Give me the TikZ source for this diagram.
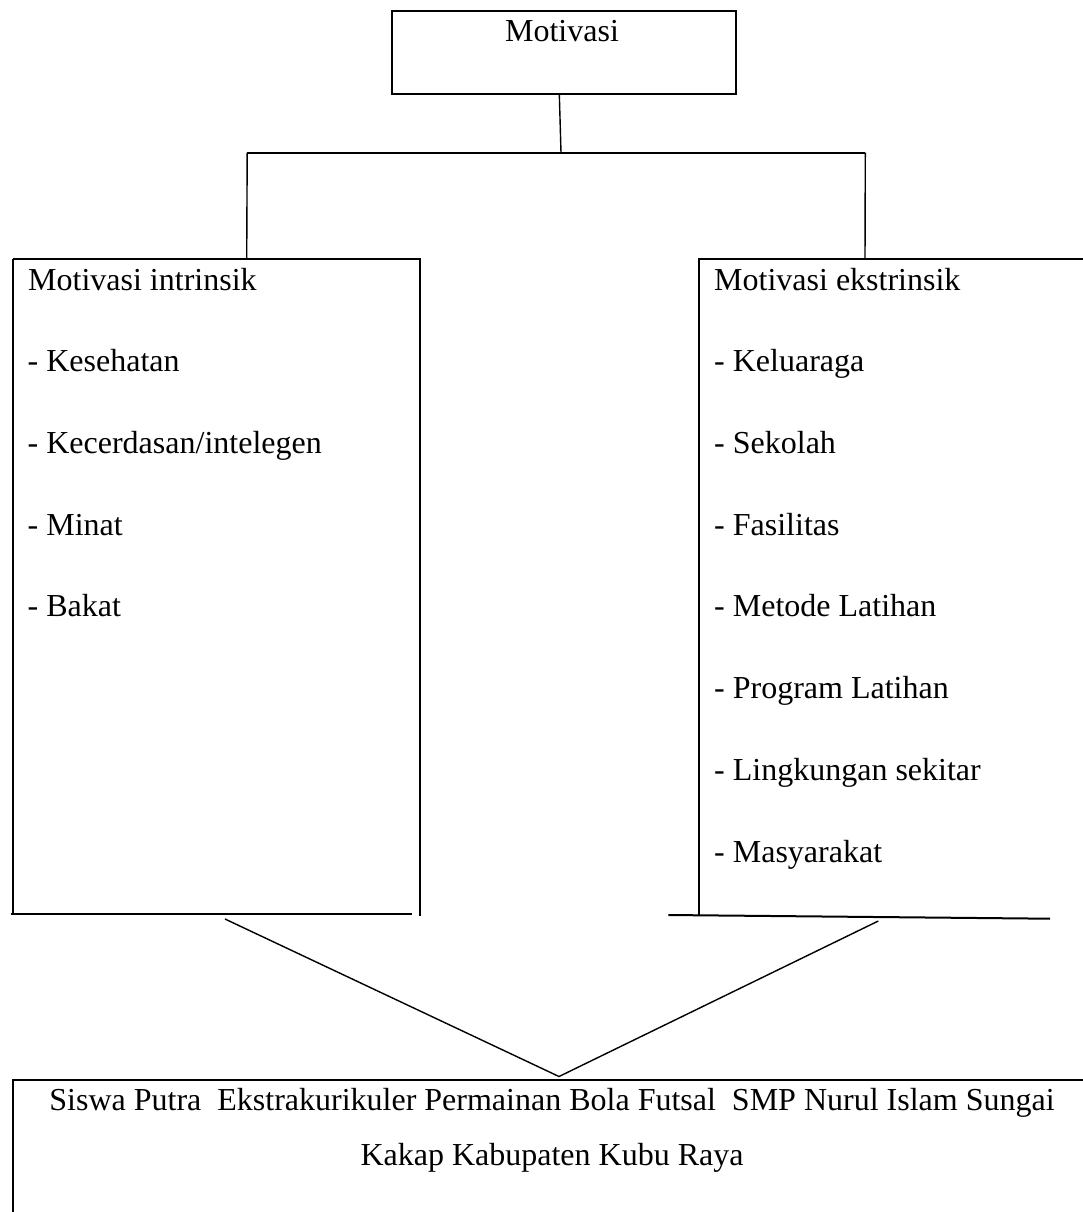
\documentclass[tikz,border=0pt]{standalone}
\usepackage{fontspec}
\setmainfont{Liberation Serif}
\begin{document}
\begin{tikzpicture}[x=1pt,y=-1pt,
  boxline/.style={line width=2pt},
  conn/.style={line width=1.4pt},
  lbl/.style={inner sep=0pt, anchor=base west, font=\fontsize{32}{38}\selectfont},
  clbl/.style={inner sep=0pt, anchor=base, font=\fontsize{32}{38}\selectfont},
  boxnode/.style={draw, line width=2pt, rectangle, inner sep=0pt}]
\useasboundingbox (0,0) rectangle (1083,1212);
\clip (0,0) rectangle (1083,1212);
\fill[white] (0,0) rectangle (1083,1212);

% top box
\node[boxnode, minimum width=344pt, minimum height=82.7pt] (top) at (563.7,52.35) {};
\node[clbl] (toptxt) at (562,41.7) {Motivasi};

% connector tree
\coordinate (t1) at (559.3,93.7);
\coordinate (j)  at (561,152.7);
\coordinate (jl) at (247.2,152.7);
\coordinate (jr) at (865.3,152.7);
\coordinate (lt) at (246.7,259.3);
\coordinate (rt) at (865,259.3);
\draw[conn] (t1) -- (j);
\draw[line width=1.7pt] (jl) -- (jr);
\draw[conn] (jl) -- (lt);
\draw[conn] (jr) -- (rt);

% left box
\coordinate (L1) at (13,259.3);
\coordinate (L2) at (420,259.3);
\coordinate (L3) at (420,915.5);
\coordinate (L4) at (13,914.3);
\coordinate (L5) at (10.7,914.3);
\coordinate (L6) at (411.7,914.3);
\draw[boxline] (L1) -- (L2) -- (L3);
\draw[boxline] (L1) -- (L4);
\draw[boxline] (L5) -- (L6);

\node[lbl] (li0) at (28,290)   {Motivasi intrinsik};
\node[lbl] (li1) at (27.5,371.7) {- Kesehatan};
\node[lbl] (li2) at (27.5,453.4) {- Kecerdasan/intelegen};
\node[lbl] (li3) at (27.5,535.1) {- Minat};
\node[lbl] (li4) at (27.5,616.8) {- Bakat};

% right box
\coordinate (R1) at (699,259.3);
\coordinate (R2) at (1090,259.3);
\coordinate (R3) at (699,915);
\coordinate (R4) at (668.3,915);
\coordinate (R5) at (1050,918.7);
\draw[boxline] (R2) -- (R1) -- (R3);
\draw[boxline] (R4) -- (R5);

\node[lbl] (re0) at (714,290)   {Motivasi ekstrinsik};
\node[lbl] (re1) at (714,371.7) {- Keluaraga};
\node[lbl] (re2) at (714,453.4) {- Sekolah};
\node[lbl] (re3) at (714,535.1) {- Fasilitas};
\node[lbl] (re4) at (714,616.8) {- Metode Latihan};
\node[lbl] (re5) at (714,698.5) {- Program Latihan};
\node[lbl] (re6) at (714,780.2) {- Lingkungan sekitar};
\node[lbl] (re7) at (714,862.3) {- Masyarakat};

% diagonals
\coordinate (dl) at (225,919);
\coordinate (dr) at (878.3,921);
\coordinate (apex) at (559,1076.5);
\draw[conn] (dl) -- (apex) -- (dr);

% bottom box
\coordinate (B1) at (12.7,1220);
\coordinate (B2) at (12.7,1080);
\coordinate (B3) at (1090,1080);
\draw[boxline] (B1) -- (B2) -- (B3);

\node[clbl] (bt1) at (552,1110) {Siswa Putra\ \ Ekstrakurikuler Permainan Bola Futsal\ \ SMP Nurul Islam Sungai};
\node[clbl] (bt2) at (552,1165) {Kakap Kabupaten Kubu Raya};
\end{tikzpicture}
\end{document}
